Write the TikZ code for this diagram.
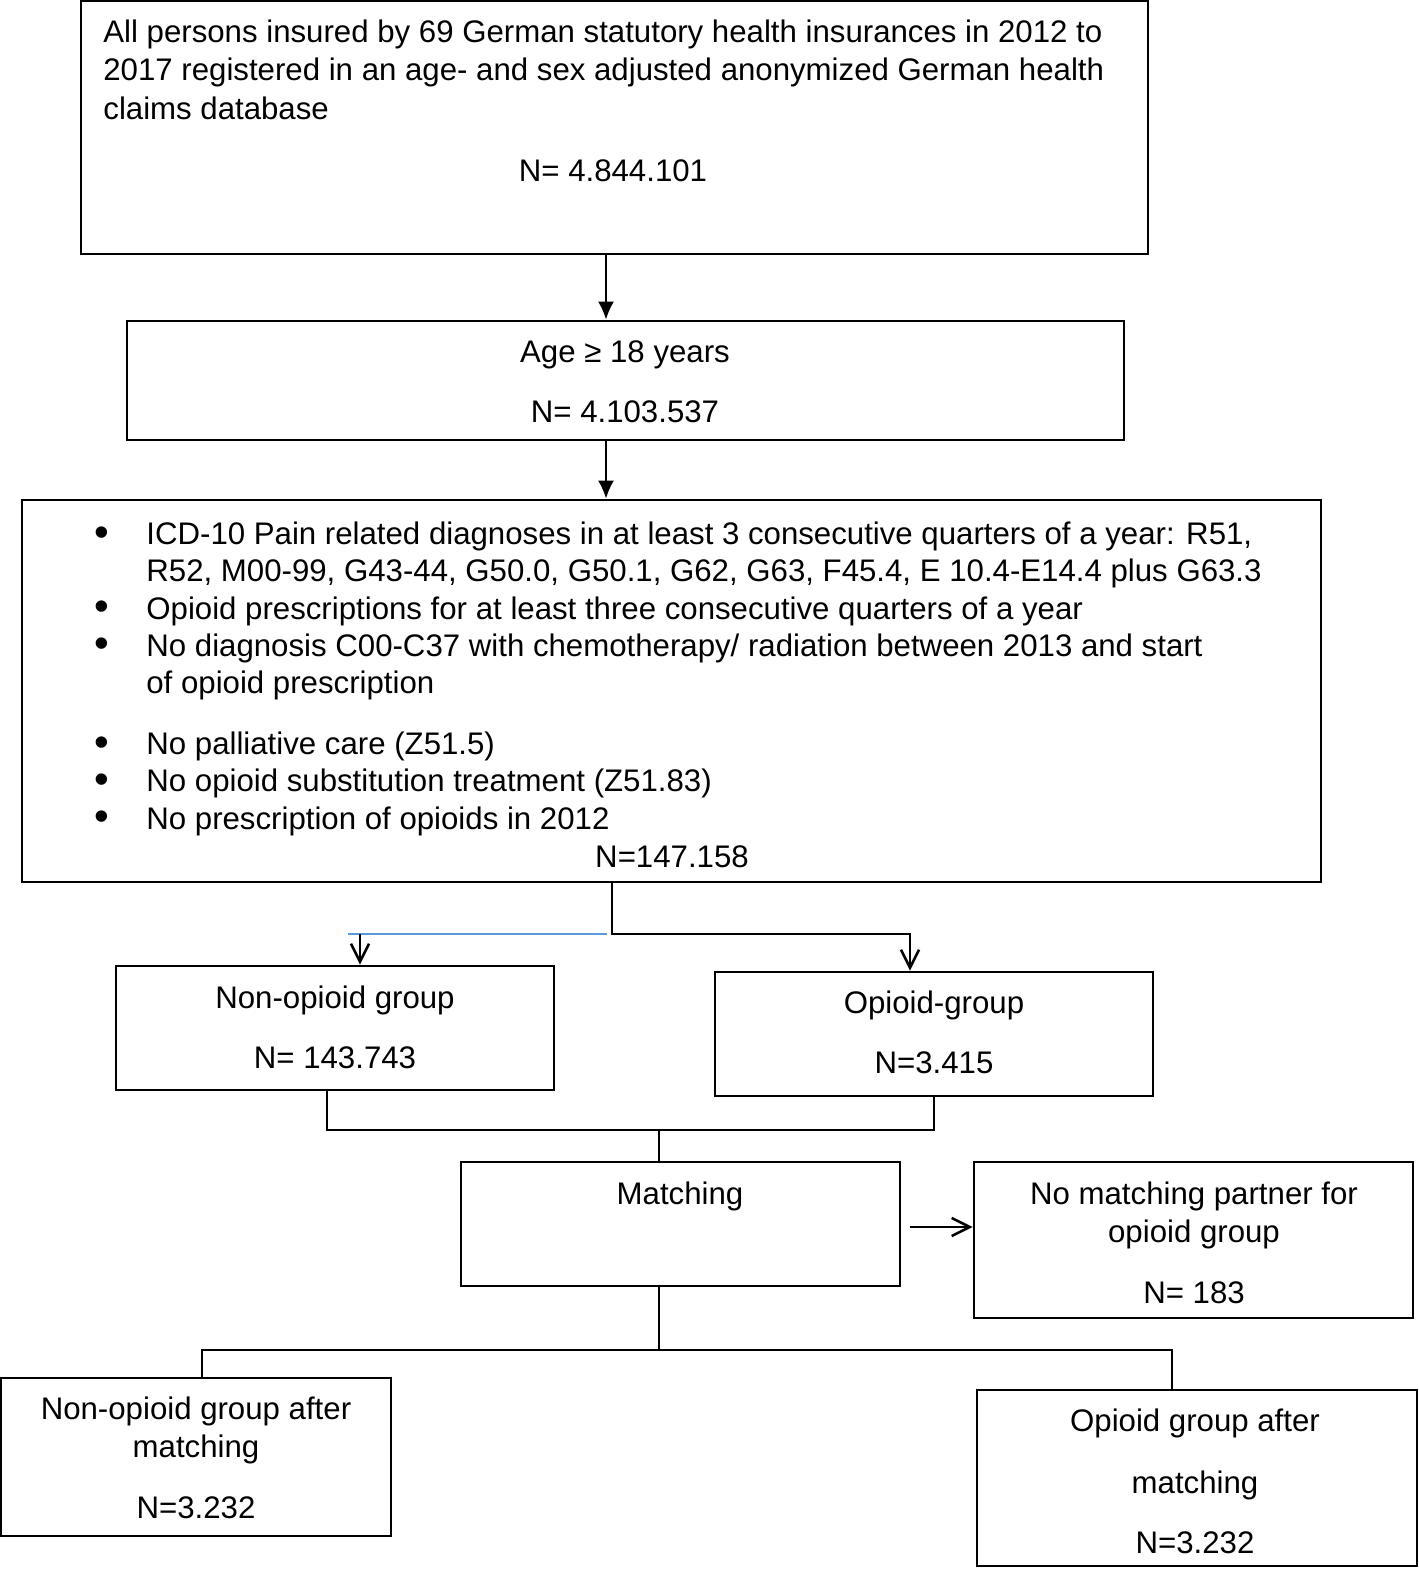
\documentclass[tikz,border=0pt]{standalone}
\usepackage{fontspec}
\setmainfont{Liberation Sans}
\usepackage{tikz}
\usetikzlibrary{arrows.meta}
\usepackage{xcolor}
\definecolor{lineblue}{RGB}{90,155,215}

\begin{document}
\begin{tikzpicture}[x=0.5pt, y=-0.5pt,
        every node/.style={font=\fontsize{15.6}{18.6}\selectfont, inner sep=0pt},
        box/.style={draw=black, line width=1.4pt, rectangle},
        dot/.style={font=\fontsize{21}{21}\selectfont, text height=8pt, text depth=0pt},
        link/.style={draw=black, line width=1pt},
        fill arrow/.style={link, -{Latex[length=9pt, width=8pt]}},
        open arrow/.style={link, -{Straight Barb[length=9pt, width=9pt, line width=1.3pt]}}]
        \useasboundingbox (0,0) rectangle (1419,1571);

        % the boxes, top to bottom
        \node[box, minimum width=533.5pt, minimum height=126.5pt] (all) at (614.5, 127.5) {};
        \node[box, minimum width=498.5pt, minimum height=59.5pt] (adult) at (625.5, 380.5) {};
        \node[box, minimum width=649.5pt, minimum height=191pt] (crit) at (671.5, 691) {};
        \node[box, minimum width=219pt, minimum height=62pt] (nonop) at (335, 1028) {};
        \node[box, minimum width=219pt, minimum height=62pt] (op) at (934, 1034) {};
        \node[box, minimum width=219.5pt, minimum height=62pt] (match) at (680.5, 1224) {};
        \node[box, minimum width=219.5pt, minimum height=78pt] (nomatch) at (1193.5, 1240) {};
        \node[box, minimum width=195pt, minimum height=79pt] (nonopm) at (196, 1457) {};
        \node[box, minimum width=220pt, minimum height=88pt] (opm) at (1197, 1478) {};

        % texts (base of a multi-line node = its last line)
        \node[anchor=base west, align=left, font=\fontsize{15.6}{19.25}\selectfont] (allT) at (103, 119)
                {All persons insured by 69 German statutory health insurances in 2012 to\\
                 2017 registered in an age- and sex adjusted anonymized German health\\
                 claims database};
        \node[anchor=base] (allN) at (613, 181) {N= 4.844.101};

        \node[anchor=base] (adultT) at (625, 362) {Age ≥ 18 years};
        \node[anchor=base] (adultN) at (625, 422) {N= 4.103.537};

        \node[anchor=base west, align=left] (critT) at (146, 829)
                {ICD-10 Pain related diagnoses in at least 3 consecutive quarters of a year: R51,\\
                 R52, M00-99, G43-44, G50.0, G50.1, G62, G63, F45.4, E 10.4-E14.4 plus G63.3\\
                 Opioid prescriptions for at least three consecutive quarters of a year\\
                 No diagnosis C00-C37 with chemotherapy/ radiation between 2013 and start\\
                 of opioid prescription\\[12pt]
                 No palliative care (Z51.5)\\
                 No opioid substitution treatment (Z51.83)\\
                 No prescription of opioids in 2012};
        \foreach \y in {545,619,656,755,792,829}
                \node[dot, anchor=base] (dot\y) at (102, \y+1) {•};
        \node[anchor=base] (critN) at (672, 867) {N=147.158};

        \node[anchor=base] (nonopT) at (335, 1008) {Non-opioid group};
        \node[anchor=base] (nonopN) at (335, 1068) {N= 143.743};
        \node[anchor=base] (opT) at (934, 1013) {Opioid-group};
        \node[anchor=base] (opN) at (934, 1073) {N=3.415};

        \node[anchor=base] (matchT) at (680, 1204) {Matching};
        \node[anchor=base, align=center] (nomatchT) at (1194, 1242) {No matching partner for\\ opioid group};
        \node[anchor=base] (nomatchN) at (1194, 1303) {N= 183};

        \node[anchor=base, align=center] (nonopmT) at (196, 1457) {Non-opioid group after\\ matching};
        \node[anchor=base] (nonopmN) at (196, 1518) {N=3.232};
        \node[anchor=base] (opmT) at (1195, 1431) {Opioid group after};
        \node[anchor=base] (opmM) at (1195, 1493) {matching};
        \node[anchor=base] (opmN) at (1195, 1553) {N=3.232};

        % connectors
        \coordinate (c1) at (606, 0);
        \draw[fill arrow] (all.south -| c1) -- (adult.north -| c1);
        \draw[fill arrow] (adult.south -| c1) -- (crit.north -| c1);

        \coordinate (s1) at (612, 934);
        \coordinate (s2) at (910, 934);
        \coordinate (s3) at (360, 934);
        \coordinate (b1) at (348, 934);
        \coordinate (b2) at (607, 934);
        \draw[open arrow] (crit.south -| s1) -- (s1) -- (s2) -- (op.north -| s2);
        \draw[lineblue, line width=1pt] (b1) -- (b2);
        \draw[open arrow] (s3) -- (nonop.north -| s3);

        \coordinate (m1) at (327, 1130);
        \coordinate (m2) at (934, 1130);
        \coordinate (m3) at (659, 1130);
        \draw[link] (nonop.south -| m1) -- (m1) -- (m2) -- (op.south -| m2);
        \draw[link] (m3) -- (match.north -| m3);

        \coordinate (a1) at (910, 1227);
        \draw[open arrow] (a1) -- (nomatch.west |- a1);

        \coordinate (d1) at (659, 1350);
        \coordinate (d2) at (202, 1350);
        \coordinate (d3) at (1172, 1350);
        \draw[link] (match.south -| d1) -- (d1);
        \draw[link] (nonopm.north -| d2) -- (d2) -- (d3) -- (opm.north -| d3);
\end{tikzpicture}
\end{document}
